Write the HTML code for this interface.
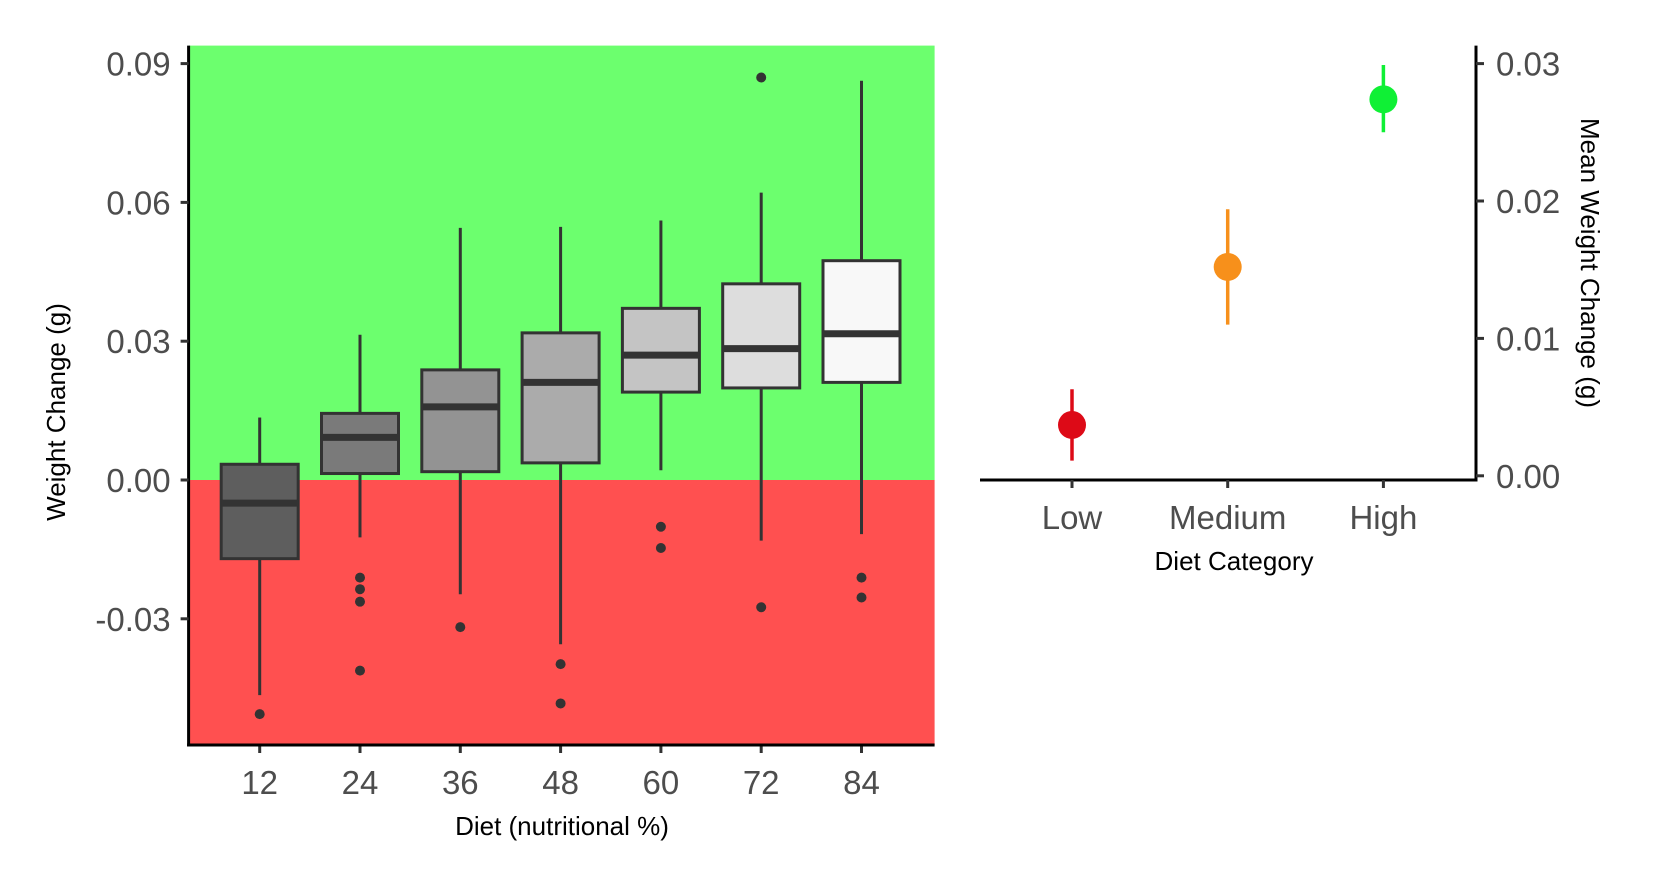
<!DOCTYPE html>
<html><head><meta charset="utf-8"><style>
html,body{margin:0;padding:0;background:#fff;}
svg{display:block;font-family:"Liberation Sans",Arial,sans-serif;}
</style></head><body>
<svg id="c" width="1653" height="885" viewBox="0 0 1653 885"></svg>
<script>
const categories=["12","24","36","48","60","72","84"];
const whiskerHigh=[0.0135,0.0314,0.0545,0.0547,0.0561,0.0621,0.0863];
const q3=[0.0034,0.0144,0.0238,0.0318,0.0371,0.0424,0.0474];
const medians=[-0.005,0.0092,0.0158,0.0211,0.027,0.0284,0.0316];
const q1=[-0.017,0.0014,0.0018,0.0037,0.019,0.0199,0.0211];
const whiskerLow=[-0.0465,-0.0124,-0.0247,-0.0355,0.0021,-0.0131,-0.0117];
const outliers=[[-0.0506],[-0.0211,-0.0236,-0.0263,-0.0412],[-0.0318],[-0.0398,-0.0483],[-0.0101,-0.0147],[0.087,-0.0275],[-0.0211,-0.0254]];
const boxFills=["#5e5e5e","#7a7a7a","#939393","#ababab","#c4c4c4","#dddddd","#f8f8f8"];
const yTicks=[-0.03,0,0.03,0.06,0.09];
const yTickLabels=["-0.03","0.00","0.03","0.06","0.09"];
const dietCats=["Low","Medium","High"];
const means=[0.0037,0.0152,0.0274];
const errHigh=[0.0063,0.0194,0.0299];
const errLow=[0.0011,0.0110,0.0250];
const meanColors=["#dd0a17","#f7901b","#0ff035"];
const rTicks=[0,0.01,0.02,0.03];
const rTickLabels=["0.00","0.01","0.02","0.03"];

const svg=document.getElementById('c');
const NS="http://www.w3.org/2000/svg";
function mk(tag,attrs,parent){const e=document.createElementNS(NS,tag);for(const k in attrs)e.setAttribute(k,attrs[k]);(parent||svg).appendChild(e);return e;}

const L={x0:188.6,x1:934.6,y0:45.6,y1:745};
const y=v=>480-v/0.03*138.8;
const xc=i=>259.7+i*100.3;
const bw=77;

const bgG=mk('rect',{x:L.x0,y:L.y0,width:L.x1-L.x0,height:y(0)-L.y0,fill:'#6cff6e'});


const bgR=mk('rect',{x:L.x0,y:y(0),width:L.x1-L.x0,height:L.y1-y(0),fill:'#ff5050'});



categories.forEach((c,i)=>{
  const g=mk('g',{});
  
  
  const x=xc(i);
  mk('line',{x1:x,x2:x,y1:y(whiskerHigh[i]),y2:y(q3[i]),stroke:'#333',"stroke-width":3},g);
  mk('line',{x1:x,x2:x,y1:y(q1[i]),y2:y(whiskerLow[i]),stroke:'#333',"stroke-width":3},g);
  mk('rect',{x:x-bw/2,y:y(q3[i]),width:bw,height:y(q1[i])-y(q3[i]),fill:boxFills[i],stroke:'#333',"stroke-width":3},g);
  mk('line',{x1:x-bw/2,x2:x+bw/2,y1:y(medians[i]),y2:y(medians[i]),stroke:'#333',"stroke-width":7},g);
  outliers[i].forEach(o=>{
    const p=mk('circle',{cx:x,cy:y(o),r:5,fill:'#333'},g);
    
    
  });
  const t=mk('text',{x:x,y:794,"text-anchor":"middle","font-size":33,fill:'#4d4d4d'});
  t.textContent=c;
  
  
  mk('line',{x1:x,x2:x,y1:L.y1,y2:L.y1+8,stroke:'#333',"stroke-width":3});
});
mk('line',{x1:L.x0,x2:L.x0,y1:L.y0,y2:L.y1+1.5,stroke:'#000',"stroke-width":3});
mk('line',{x1:L.x0-1.5,x2:L.x1,y1:L.y1,y2:L.y1,stroke:'#000',"stroke-width":3});
yTicks.forEach((v,i)=>{
  mk('line',{x1:L.x0-8,x2:L.x0,y1:y(v),y2:y(v),stroke:'#333',"stroke-width":3});
  const t=mk('text',{x:L.x0-18,y:y(v)+12,"text-anchor":"end","font-size":33,fill:'#4d4d4d'});
  t.textContent=yTickLabels[i];
  
  
});
let t=mk('text',{x:562,y:835,"text-anchor":"middle","font-size":26,fill:'#000'});
t.textContent="Diet (nutritional %)";


t=mk('text',{x:0,y:0,"text-anchor":"middle","font-size":26,fill:'#000',transform:'translate(65,412) rotate(-90)'});
t.textContent="Weight Change (g)";



const R={x0:980,x1:1476,y0:45.6,yb:480};
const ry=v=>475.8-v/0.01*137.4;
const rx=i=>1072+i*155.7;
mk('line',{x1:R.x0,x2:R.x1+1.5,y1:R.yb,y2:R.yb,stroke:'#000',"stroke-width":3});
mk('line',{x1:R.x1,x2:R.x1,y1:R.y0,y2:R.yb,stroke:'#000',"stroke-width":3});
rTicks.forEach((v,i)=>{
  mk('line',{x1:R.x1,x2:R.x1+8,y1:ry(v),y2:ry(v),stroke:'#333',"stroke-width":3});
  const t=mk('text',{x:R.x1+20,y:ry(v)+12,"font-size":33,fill:'#4d4d4d'});
  t.textContent=rTickLabels[i];
  
  
});
dietCats.forEach((c,i)=>{
  const x=rx(i);
  mk('line',{x1:x,x2:x,y1:R.yb,y2:R.yb+8,stroke:'#333',"stroke-width":3});
  const g=mk('g',{});
  
  
  mk('line',{x1:x,x2:x,y1:ry(errHigh[i]),y2:ry(errLow[i]),stroke:meanColors[i],"stroke-width":3.5},g);
  mk('circle',{cx:x,cy:ry(means[i]),r:14,fill:meanColors[i]},g);
  const t=mk('text',{x:x,y:529,"text-anchor":"middle","font-size":33,fill:'#4d4d4d'});
  t.textContent=c;
  
  
});
t=mk('text',{x:1234,y:570,"text-anchor":"middle","font-size":26,fill:'#000'});
t.textContent="Diet Category";


t=mk('text',{x:0,y:0,"text-anchor":"middle","font-size":26,fill:'#000',transform:'translate(1581,263) rotate(90)'});
t.textContent="Mean Weight Change (g)";


</script>
</body></html>
